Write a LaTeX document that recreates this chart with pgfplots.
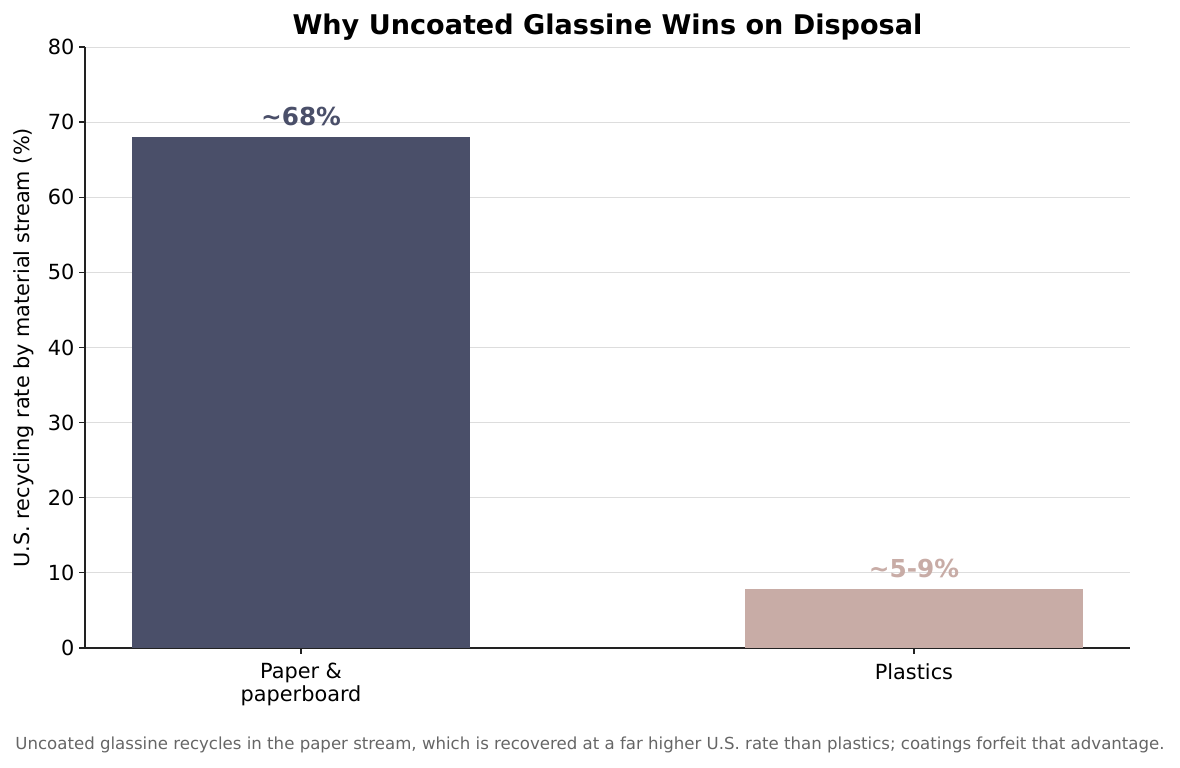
\documentclass[border=0pt]{standalone}
\usepackage{pgfplots}
\pgfplotsset{compat=1.18}
\usepackage{fontspec}
\setmainfont{DejaVu Sans}

\definecolor{paperc}{HTML}{4A4F69}
\definecolor{plastc}{HTML}{C8ACA6}
\definecolor{gridc}{HTML}{DDDDDD}
\definecolor{capc}{HTML}{666666}
\definecolor{spine}{HTML}{222222}

\begin{document}
\begin{tikzpicture}
\begin{axis}[
    scale only axis, width=752.4pt, height=432.72pt,
    at={(61.2pt,86.4pt)}, anchor=south west,
    xmin=-0.3525, xmax=1.3525, ymin=0, ymax=80,
    ytick={0,10,...,80}, xtick={0,1},
    xticklabels={{Paper \&\\paperboard}, Plastics},
    xticklabel style={align=center, yshift=-3.4pt, font=\fontsize{15}{16.3}\selectfont},
    yticklabel style={font=\fontsize{15}{18}\selectfont},
    /pgf/number format/assume math mode=true,
    axis x line*=bottom, axis y line*=left,
    axis line style={spine, line width=0.9pt},
    tick style={spine, line width=0.9pt},
    major tick length=4.1pt,
    xtick pos=bottom, ytick pos=left,
    tick align=outside,
    ymajorgrids, grid style={gridc, line width=0.7pt},
    ybar, bar width=0.55, bar shift=0pt,
]
\addplot[fill=paperc, draw=none] coordinates {(0,68)};
\addplot[fill=plastc, draw=none] coordinates {(1,7.8)};
\node[anchor=south, inner sep=0pt, text=paperc, font=\fontsize{17.8}{20}\selectfont\bfseries] at (axis cs:0,69.4) {\char`\~68\%};
\node[anchor=south, inner sep=0pt, text=plastc, font=\fontsize{17.8}{20}\selectfont\bfseries] at (axis cs:1,9.3) {\char`\~5-9\%};
\end{axis}
\node[font=\fontsize{19.5}{22}\selectfont\bfseries] at (437.4pt,533.5pt) {Why Uncoated Glassine Wins on Disposal};
\node[rotate=90, font=\fontsize{15}{18}\selectfont] at (17.3pt,302.5pt) {U.S. recycling rate by material stream (\%)};
\node[text=capc, font=\fontsize{11.95}{14}\selectfont] at (424.8pt,16.6pt) {Uncoated glassine recycles in the paper stream, which is recovered at a far higher U.S. rate than plastics; coatings forfeit that advantage.};
\path (0,0) rectangle (849.6pt,552.96pt);
\end{tikzpicture}
\end{document}
